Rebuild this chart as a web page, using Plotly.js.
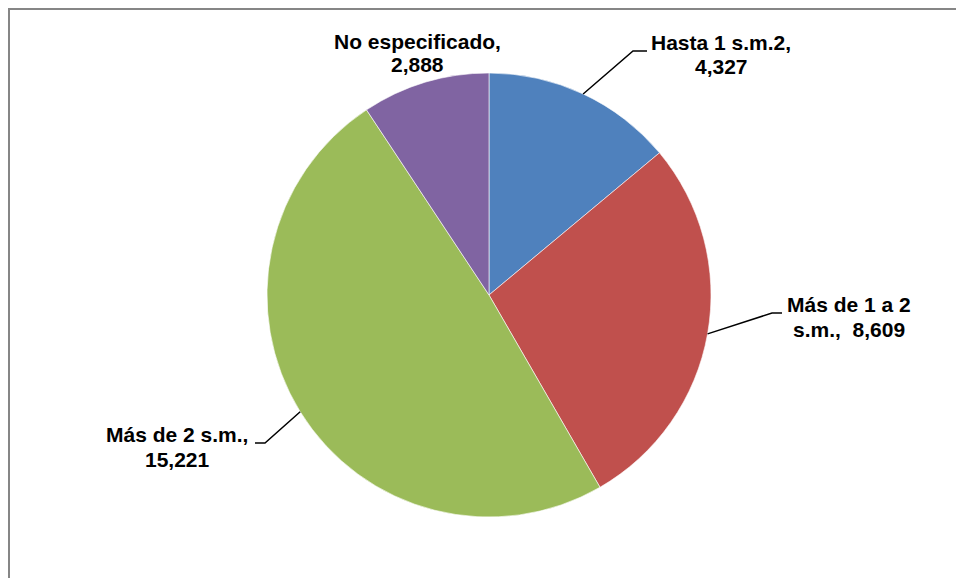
<!DOCTYPE html>
<html>
<head>
<meta charset="utf-8">
<script src="https://cdn.plot.ly/plotly-3.0.1.min.js"></script>
<style>
  html, body { margin: 0; padding: 0; background: #fff; }
  #chart { width: 956px; height: 578px; }
</style>
</head>
<body>
<div id="chart"></div>
<script>
// ---- data ----
const labels = ["Hasta 1 s.m.2", "Más de 1 a 2 s.m.", "Más de 2 s.m.", "No especificado"];
const labelLine1 = ["Hasta 1 s.m.2,", "Más de 1 a 2", "Más de 2 s.m.,", "No especificado,"];
const labelLine2 = ["4,327", "s.m.,  8,609", "15,221", "2,888"];
const values = [4327, 8609, 15221, 2888];
const colors = ["#4F81BD", "#C0504D", "#9BBB59", "#8064A2"];

// ---- layout geometry (pixels) ----
const W = 956, H = 578;
const cx = 489, cy = 295, R = 222;
const FS = 21;
// label centre x and baselines of the two lines (pixels)
const labelX = [721, 849, 177, 417];
const baselines = [[51.5, 75], [313, 338], [443, 468], [50.7, 73.3]];
const elbows = [[[633, 51], [647, 51]], [[772, 313], [782, 313]], [[265, 443], [255, 443]], null];

const px = x => x / W;
const py = y => 1 - y / H;

const total = values.reduce((a, b) => a + b, 0);
let cum = 0;
const shapes = [{
  type: "rect", xref: "paper", yref: "paper",
  x0: px(9), y1: py(9), x1: px(W + 20), y0: py(H + 20),
  line: { color: "#868686", width: 2 }, fillcolor: "rgba(0,0,0,0)", layer: "below"
}];
const annotations = [];
const font = { family: "Liberation Sans, Arial, sans-serif", size: FS, color: "#000" };
values.forEach((v, i) => {
  const mid = (cum + v / 2) / total * 2 * Math.PI;
  cum += v;
  const ex = cx + R * Math.sin(mid), ey = cy - R * Math.cos(mid);
  if (elbows[i]) {
    const [a, b] = elbows[i];
    shapes.push({
      type: "path", xref: "paper", yref: "paper",
      path: `M ${px(ex)} ${py(ey)} L ${px(a[0])} ${py(a[1])} L ${px(b[0])} ${py(b[1])}`,
      line: { color: "#000", width: 1.5 }
    });
  }
  [labelLine1[i], labelLine2[i]].forEach((t, k) => {
    annotations.push({
      xref: "paper", yref: "paper",
      x: px(labelX[i]), y: py(baselines[i][k] - 0.42 * FS),
      xanchor: "center", yanchor: "middle",
      text: "<b>" + t + "</b>", showarrow: false, align: "center",
      font: font
    });
  });
});

const trace = {
  type: "pie",
  labels: labels,
  values: values,
  sort: false,
  direction: "clockwise",
  rotation: 0,
  textinfo: "none",
  hoverinfo: "label+value",
  marker: { colors: colors, line: { color: "#ffffff", width: 0.6 } },
  domain: { x: [px(cx - R), px(cx + R)], y: [py(cy + R), py(cy - R)] },
  showlegend: false
};

Plotly.newPlot("chart", [trace], {
  width: W, height: H,
  margin: { l: 0, r: 0, t: 0, b: 0 },
  paper_bgcolor: "#ffffff",
  showlegend: false,
  shapes: shapes,
  annotations: annotations
}, { displayModeBar: false, staticPlot: true });
</script>
</body>
</html>
